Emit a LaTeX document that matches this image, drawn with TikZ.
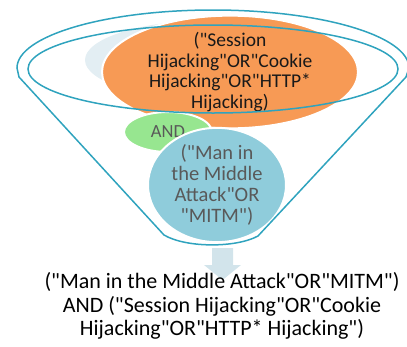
\documentclass[tikz,border=0pt]{standalone}
\usepackage{fontspec}
\setmainfont{Carlito}[Ligatures=TeXOff]
\usetikzlibrary{shapes.geometric}
\definecolor{funnelBlue}{HTML}{2FA3BE}
\definecolor{queryOrange}{HTML}{F79A55}
\definecolor{shadowOrange}{HTML}{FBCBAA}
\definecolor{queryGreen}{HTML}{97E690}
\definecolor{queryBlue}{HTML}{8FCCDB}
\definecolor{paleBlue}{HTML}{E3EEF3}
\definecolor{arrowBlue}{HTML}{D2E4EB}
\definecolor{textGray}{HTML}{595959}

\begin{document}
\begin{tikzpicture}[x=1pt,y=1pt,
  rim/.style={draw=funnelBlue,line width=1.5pt},
  term/.style={ellipse,draw=white,line width=2pt,inner sep=0pt,align=center}]
  \useasboundingbox (0,-346) rectangle (407,0);
  \clip (0,-346) rectangle (407,0);

  %% funnel contents
  % shadows
  \fill[paleBlue] (215,-60) ellipse[x radius=130,y radius=40];
  \fill[shadowOrange] (232,-76) ellipse[x radius=124,y radius=45];
  % terms
  \node[term,fill=queryOrange,text=black!90,minimum width=256pt,minimum height=94pt,
    font=\fontsize{19.5}{20.7}\selectfont]
    (session) at (230,-72) {("Session\\Hijacking"OR"Cookie\\Hijacking"OR"HTTP*\\Hijacking)};
  \node[term,fill=queryGreen,text=textGray,minimum width=88pt,minimum height=40pt,
    font=\fontsize{18.5}{20}\selectfont]
    (and) at (168,-132) {AND};
  \node[term,fill=queryBlue,text=textGray,minimum width=138pt,minimum height=90pt,
    font=\fontsize{20.5}{21}\selectfont]
    (mitm) at (217,-185) {("Man in\\the Middle\\Attack"OR\\"MITM")};

  %% funnel
  \draw[rim] (213,-69) ellipse[x radius=185,y radius=44];
  \draw[rim] (17,-68) arc[start angle=180,end angle=0,x radius=196,y radius=58]
    -- (406,-77) -- (258,-236) .. controls (236,-248) and (186,-248) .. (164,-235)
    -- (19,-77) -- cycle;

  %% result
  \fill[arrowBlue] (212,-248) -- (233,-248) -- (233,-265) -- (241,-265)
    -- (222.5,-280) -- (204,-265) -- (212,-265) -- cycle;
  \node[font=\fontsize{22}{23.5}\selectfont,align=center,inner sep=0pt]
    (result) at (222,-306) {("Man in the Middle Attack"OR"MITM")\\AND ("Session Hijacking"OR"Cookie\\Hijacking"OR"HTTP* Hijacking")};
\end{tikzpicture}
\end{document}
